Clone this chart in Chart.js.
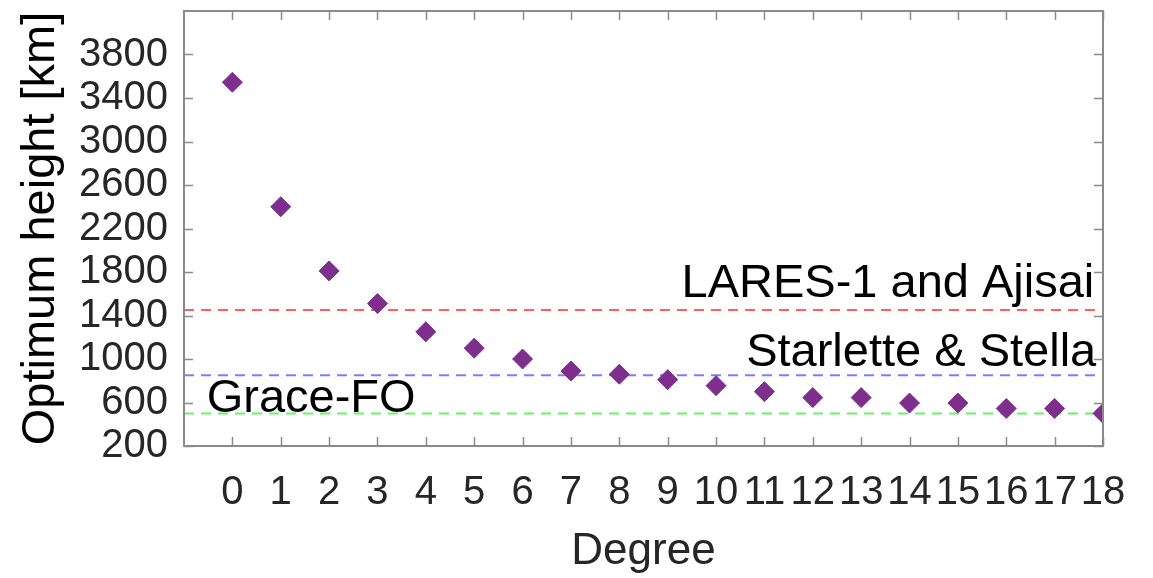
<!DOCTYPE html>
<html>
<head>
<meta charset="utf-8">
<script src="https://cdn.jsdelivr.net/npm/chart.js@4/dist/chart.umd.min.js"></script>
<style>
  html, body { margin: 0; padding: 0; background: #fff; }
  #wrap { width: 1153px; height: 578px; }
</style>
</head>
<body>
<div id="wrap"><canvas id="chart" width="1153" height="578"></canvas></div>
<script>
// degree / optimum height
const degrees = [0, 1, 2, 3, 4, 5, 6, 7, 8, 9, 10, 11, 12, 13, 14, 15, 16, 17, 18];
const heights = [3545, 2400, 1810, 1510, 1250, 1100, 1000, 890, 860, 810, 755, 700, 645, 645, 595, 595, 545, 545, 500];

// reference orbit heights
const refNames = ['LARES-1 and Ajisai', 'Starlette & Stella', 'Grace-FO'];
const refHeights = [1450, 850, 500];
const refColors = ['rgba(255,40,40,0.75)', 'rgba(80,80,255,0.75)', 'rgba(60,235,60,0.75)'];
// label anchors in data units: x, y, alignment
const refLabelX = [17.82, 17.86, -0.53];
const refLabelY = [1570, 935, 510];
const refLabelAlign = ['right', 'right', 'left'];

const xRange = [-1, 18];
const yRange = [200, 4200];
const yStep = 400;

const axisGray = '#8a8a8a';
const tickText = '#262626';

const refDatasets = refHeights.map((h, i) => ({
    type: 'line',
    label: refNames[i],
    data: [{x: xRange[0], y: h}, {x: xRange[1], y: h}],
    borderColor: refColors[i],
    borderWidth: 2,
    borderDash: [10, 7],
    pointRadius: 0,
    order: 2
}));

// MATLAB-style inward ticks on all four sides
const boxTicks = {
    id: 'boxTicks',
    afterDatasetsDraw(chart) {
        const {ctx, chartArea: a, scales: {x, y}} = chart;
        const len = 9;
        ctx.save();
        ctx.strokeStyle = axisGray;
        ctx.lineWidth = 1.5;
        ctx.beginPath();
        x.ticks.forEach(t => {
            const px = Math.round(x.getPixelForValue(t.value)) + 0.5;
            ctx.moveTo(px, a.bottom); ctx.lineTo(px, a.bottom - len);
            ctx.moveTo(px, a.top); ctx.lineTo(px, a.top + len);
        });
        y.ticks.forEach(t => {
            const py = Math.round(y.getPixelForValue(t.value)) + 0.5;
            ctx.moveTo(a.left, py); ctx.lineTo(a.left + len, py);
            ctx.moveTo(a.right, py); ctx.lineTo(a.right - len, py);
        });
        ctx.stroke();
        ctx.lineWidth = 2;
        ctx.strokeRect(a.left, a.top, a.right - a.left, a.bottom - a.top);
        ctx.restore();
    }
};

// text labels for the reference lines
const refLabels = {
    id: 'refLabels',
    afterDatasetsDraw(chart) {
        const {ctx, scales: {x, y}} = chart;
        ctx.save();
        ctx.font = '47px "Liberation Sans", Arial, sans-serif';
        ctx.fillStyle = '#000';
        ctx.textBaseline = 'alphabetic';
        refNames.forEach((name, i) => {
            ctx.textAlign = refLabelAlign[i];
            ctx.fillText(name, x.getPixelForValue(refLabelX[i]), y.getPixelForValue(refLabelY[i]));
        });
        ctx.restore();
    }
};

new Chart(document.getElementById('chart'), {
    type: 'scatter',
    data: {
        datasets: [{
            label: 'Optimum height',
            data: degrees.map((d, i) => ({x: d, y: heights[i]})),
            backgroundColor: '#7E2F8E',
            borderColor: '#7E2F8E',
            pointStyle: 'rectRot',
            pointRadius: 10,
            order: 1
        }, ...refDatasets]
    },
    options: {
        responsive: false,
        animation: false,
        layout: { padding: { top: 5, right: 50, left: 0, bottom: 0 } },
        plugins: {
            legend: { display: false },
            tooltip: { enabled: false }
        },
        scales: {
            x: {
                type: 'linear',
                min: xRange[0],
                max: xRange[1],
                ticks: {
                    stepSize: 1,
                    color: tickText,
                    padding: 23,
                    maxRotation: 0,
                    autoSkip: false,
                    font: { size: 40, family: '"Liberation Sans", Arial, sans-serif' }
                },
                afterBuildTicks: s => { s.ticks = s.ticks.filter(t => t.value >= 0); },
                afterFit: s => { s.height = 132; s.paddingLeft = 0; s.paddingRight = 0; },
                grid: { display: false, drawTicks: false },
                border: { display: false },
                title: {
                    display: true,
                    text: 'Degree',
                    color: tickText,
                    padding: { top: 0, bottom: 0 },
                    font: { size: 44, family: '"Liberation Sans", Arial, sans-serif' }
                }
            },
            y: {
                min: yRange[0],
                max: yRange[1],
                ticks: {
                    stepSize: yStep,
                    color: tickText,
                    padding: 16,
                    autoSkip: false,
                    callback: v => String(v),
                    font: { size: 40, family: '"Liberation Sans", Arial, sans-serif' }
                },
                afterBuildTicks: s => { s.ticks = s.ticks.filter(t => t.value < yRange[1]); },
                afterFit: s => { s.width = 184; s.paddingTop = 0; s.paddingBottom = 0; },
                grid: { display: false, drawTicks: false },
                border: { display: false },
                title: {
                    display: true,
                    text: 'Optimum height [km]',
                    color: '#000',
                    padding: { top: 13, bottom: 0 },
                    font: { size: 47, family: '"Liberation Sans", Arial, sans-serif' }
                }
            }
        }
    },
    plugins: [boxTicks, refLabels]
});
</script>
</body>
</html>
